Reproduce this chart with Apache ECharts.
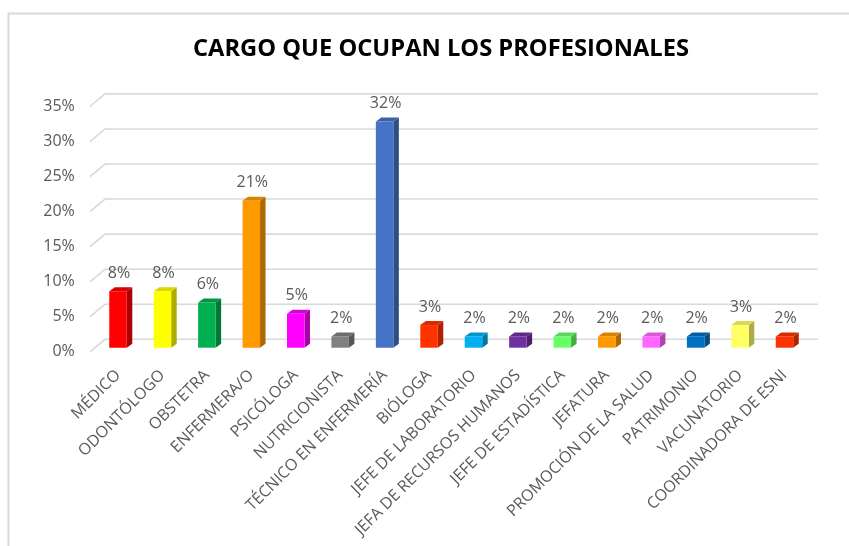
<!DOCTYPE html>
<html>
<head>
<meta charset="utf-8">
<script src="https://cdn.jsdelivr.net/npm/echarts@6/dist/echarts.min.js"></script>
<style>html,body{margin:0;padding:0;background:#fff}#c{width:849px;height:546px}</style>
</head>
<body>
<div id="c"></div>
<script>
const titleText = 'CARGO QUE OCUPAN LOS PROFESIONALES';
const categories = ['MÉDICO','ODONTÓLOGO','OBSTETRA','ENFERMERA/O','PSICÓLOGA','NUTRICIONISTA','TÉCNICO EN ENFERMERÍA','BIÓLOGA','JEFE DE LABORATORIO','JEFA DE RECURSOS HUMANOS','JEFE DE ESTADÍSTICA','JEFATURA','PROMOCIÓN DE LA SALUD','PATRIMONIO','VACUNATORIO','COORDINADORA DE ESNI'];
const values = [8.06, 8.06, 6.45, 20.97, 4.84, 1.61, 32.26, 3.23, 1.61, 1.61, 1.61, 1.61, 1.61, 1.61, 3.23, 1.61];
const yTicks = [0, 5, 10, 15, 20, 25, 30, 35];
const barColors = ['#FF0000','#FFFF00','#00B050','#FF9900','#FF00FF','#808080','#4472C4','#FF3300','#00B0F0','#7030A0','#66FF66','#FF9900','#FF66FF','#0070C0','#FFFF66','#FF3300'];

function shade(hex, f) {
  const n = parseInt(hex.slice(1), 16);
  const r = Math.round(((n >> 16) & 255) * f), g = Math.round(((n >> 8) & 255) * f), b = Math.round((n & 255) * f);
  return 'rgb(' + r + ',' + g + ',' + b + ')';
}

const FONT = '"Open Sans", sans-serif';
const chart = echarts.init(document.getElementById('c'), null, {renderer: 'canvas'});

chart.setOption({
  backgroundColor: '#fff',
  animation: false,
  title: {
    text: titleText,
    left: 436, textAlign: 'center', top: 32,
    textStyle: {fontFamily: FONT, fontWeight: 'bold', fontSize: 23.7, color: '#000'}
  },
  graphic: [{
    type: 'rect', silent: true,
    shape: {x: 8.5, y: 13.5, width: 1000, height: 700},
    style: {fill: 'none', stroke: '#d9d9d9', lineWidth: 2}
  }],
  grid: {left: 95.8, right: 42.3, top: 102.3, bottom: 198.3, containLabel: false},
  xAxis: {
    type: 'category', data: categories,
    axisLine: {show: false}, axisTick: {show: false}, splitLine: {show: false},
    axisLabel: {interval: 0, rotate: 45, margin: 25, color: '#595959', fontFamily: FONT, fontSize: 16}
  },
  yAxis: {
    type: 'value', min: 0, max: 35, interval: 5,
    axisLine: {show: false}, axisTick: {show: false}, splitLine: {show: false},
    axisLabel: {formatter: '{value}%', margin: 21, verticalAlign: 'top', lineHeight: 8, color: '#595959', fontFamily: FONT, fontSize: 16}
  },
  series: [
    {
      type: 'custom', z: 1, clip: false, silent: true,
      data: yTicks.map(v => [0, v]),
      encode: {x: 0, y: 1},
      renderItem: function (params, api) {
        const cs = params.coordSys;
        const p = api.coord([0, api.value(1)]);
        const by = p[1] - 8.4;
        const st = {stroke: '#d9d9d9', lineWidth: 1.6, fill: 'none'};
        return {type: 'group', children: [
          {type: 'polyline', shape: {points: [[cs.x - 5.8, p[1] + 4.2], [cs.x + 9.2, by], [cs.x + cs.width + 11.3, by]]}, style: st}
        ]};
      }
    },
    {
      type: 'custom', z: 2, clip: false,
      data: values.map((v, i) => [i, v]),
      encode: {x: 0, y: 1},
      renderItem: function (params, api) {
        const i = api.value(0), v = api.value(1);
        const top = api.coord([i, v]);
        const base = api.coord([i, 0]);
        const w = 17.5, dx = 5.5, dy = 4;
        const x0 = top[0] - w / 2, x1 = top[0] + w / 2;
        const yT = top[1], yB = base[1];
        const c = barColors[i];
        return {type: 'group', children: [
          {type: 'polygon', shape: {points: [[x1, yB], [x1 + dx, yB - dy], [x1 + dx, yT - dy], [x1, yT]]}, style: {fill: shade(c, 0.68)}},
          {type: 'polygon', shape: {points: [[x0, yT], [x1, yT], [x1 + dx, yT - dy], [x0 + dx, yT - dy]]}, style: {fill: shade(c, 0.85)}},
          {type: 'rect', shape: {x: x0, y: yT, width: w, height: yB - yT}, style: {fill: c}},
          {type: 'text', style: {text: Math.round(v) + '%', x: top[0] + 1, y: yT - 18, align: 'center', verticalAlign: 'middle', fill: '#595959', font: '16px ' + FONT}}
        ]};
      }
    }
  ]
});
</script>
</body>
</html>
